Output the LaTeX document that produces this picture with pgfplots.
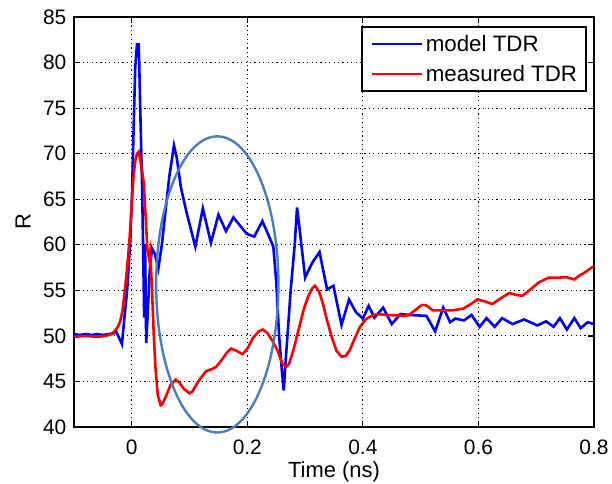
\documentclass[border=0pt]{standalone}
\usepackage{pgfplots}
\pgfplotsset{compat=1.18}
\usepackage{fontspec}
\setmainfont{Liberation Sans}
\definecolor{ellipseblue}{RGB}{74,126,187}
\begin{document}
\fontsize{11}{13}\selectfont
\begin{tikzpicture}
\begin{axis}[
  scale only axis, width=260bp, height=205bp,
  xmin=-0.1, xmax=0.8, ymin=40, ymax=85,
  xtick={0,0.2,0.4,0.6,0.8}, ytick={40,45,...,85},
  grid=major,
  major grid style={black, line width=0.45bp, dash pattern=on 0.6bp off 1.6bp},
  tick align=inside, major tick length=3bp,
  tick style={black, line width=0.6bp},
  axis line style={black, line width=0.9bp},
  /pgf/number format/assume math mode=true,
  xticklabel style={/pgf/number format/fixed, yshift=-2.8bp},
  ticklabel style={font=\fontsize{10.5}{12}\selectfont},
  xlabel={Time (ns)}, ylabel={R},
  xlabel style={at={(axis description cs:0.5,0)}, anchor=base, yshift=-25.4bp, font=\fontsize{11}{13}\selectfont},
  ylabel style={at={(axis description cs:-0.098,0.5)}, anchor=center, font=\fontsize{11}{13}\selectfont},
  clip=false,
  legend style={at={(1,1)}, anchor=north east, xshift=-3.5bp, yshift=-4.5bp,
    draw=black, line width=0.9bp, fill=white,
    inner xsep=4.5bp, inner ysep=4.5bp, column sep=1.5bp, row sep=7bp,
    nodes={inner sep=0bp, text height=8bp, text depth=0bp},
    font=\fontsize{11.2}{13}\selectfont},
  legend cell align=left,
  legend image code/.code={\draw[#1] (0bp,0bp) -- (24.5bp,0bp);},
]
\addplot[color=blue, line width=1.3bp] coordinates {
(-0.1,50.2) (-0.09,50.1) (-0.08,50.2) (-0.07,50.1) (-0.06,50.2) (-0.05,50.1)
(-0.04,50.2) (-0.03,50.3) (-0.027,50.5) (-0.022,49.8) (-0.017,49.1)
(-0.012,52.5) (-0.008,55) (-0.004,59) (-0.002,61.2) (0.0006,66) (0.0035,73.6)
(0.006,79.5) (0.009,82.0) (0.012,82.0) (0.013,79.5) (0.015,74) (0.018,66)
(0.020,58) (0.0215,52) (0.023,60) (0.025,49.2) (0.028,53) (0.031,57) (0.035,59.6)
(0.040,59.0) (0.046,57.4) (0.052,60.0) (0.058,63.5) (0.065,67.5) (0.073,70.9)
(0.078,69.5) (0.085,66.3) (0.095,63.5) (0.110,59.8) (0.123,64.0) (0.137,60.2)
(0.150,63.3) (0.163,61.5) (0.176,63.0) (0.199,61.2) (0.212,60.9) (0.226,62.6)
(0.237,61.0) (0.245,59.8) (0.250,56) (0.255,50) (0.260,46) (0.263,44.0)
(0.266,47) (0.270,50.5) (0.275,55) (0.282,60) (0.286,64.1) (0.290,62)
(0.300,56.4) (0.312,58) (0.325,59.2) (0.338,55.1) (0.349,55.5) (0.363,51.2)
(0.376,54.0) (0.388,52.6) (0.400,51.9) (0.410,53.3) (0.420,52.0) (0.435,53.1)
(0.450,51.3) (0.465,52.4) (0.480,52.3) (0.510,52.2) (0.525,50.5) (0.539,53.1)
(0.551,51.5) (0.560,51.9) (0.575,51.7) (0.588,52.3) (0.602,51.0) (0.614,51.95)
(0.628,51.0) (0.641,51.95) (0.659,51.3) (0.679,51.8) (0.702,51.15) (0.717,51.6)
(0.730,51.0) (0.741,51.95) (0.753,50.7) (0.766,51.95) (0.777,50.85) (0.789,51.5)
(0.8,51.3)
};
\addlegendentry{model TDR}
\addplot[color=red, line width=1.3bp] coordinates {
(-0.1,49.9) (-0.08,50.0) (-0.06,49.9) (-0.045,50.0) (-0.035,50.2) (-0.030,50.5)
(-0.024,51.0) (-0.020,51.6) (-0.016,52.8) (-0.012,55) (-0.008,57.5) (-0.004,60.5)
(0.000,64.5) (0.003,67.5) (0.006,69.2) (0.009,70.0) (0.012,70.2) (0.015,69.2)
(0.018,68) (0.021,66.7) (0.024,63.0) (0.027,59.5) (0.030,58.5) (0.032,59.3)
(0.035,55) (0.038,50.2) (0.041,46.5) (0.045,43.5) (0.050,42.4) (0.053,42.5)
(0.058,43.2) (0.067,44.6) (0.076,45.2) (0.082,44.9) (0.090,44.2) (0.100,43.7)
(0.105,43.9) (0.115,45.0) (0.128,46.1) (0.140,46.4) (0.146,46.6) (0.155,47.3)
(0.165,48.2) (0.172,48.6) (0.180,48.4) (0.192,48.0) (0.200,48.6) (0.210,49.8)
(0.220,50.5) (0.227,50.7) (0.235,50.3) (0.245,49.3) (0.253,48.3) (0.260,47.0)
(0.267,46.6) (0.272,46.9) (0.280,48.5) (0.290,51.0) (0.298,53.0) (0.305,54.3)
(0.312,55.2) (0.317,55.5) (0.324,54.9) (0.331,53.5) (0.338,51.7) (0.346,49.9)
(0.354,48.4) (0.363,47.7) (0.370,47.8) (0.377,48.4) (0.385,49.6) (0.395,51.0)
(0.405,51.8) (0.412,52.1) (0.425,52.4) (0.440,52.3) (0.459,52.25) (0.470,52.2)
(0.480,52.3) (0.490,52.8) (0.502,53.4) (0.510,53.35) (0.521,52.8) (0.535,52.8)
(0.555,52.8) (0.574,53.0) (0.587,53.5) (0.598,54.0) (0.610,53.8) (0.624,53.5)
(0.638,54.1) (0.653,54.7) (0.665,54.5) (0.676,54.4) (0.690,55.1) (0.705,55.9)
(0.722,56.4) (0.740,56.4) (0.752,56.45) (0.766,56.2) (0.774,56.6) (0.785,57.0)
(0.796,57.5) (0.8,57.6)
};
\addlegendentry{measured TDR}
\draw[ellipseblue, line width=1.2bp] (axis cs:0.148,55.65) ellipse [x radius=0.1058, y radius=16.25];
\end{axis}
\pgfresetboundingbox
\path[use as bounding box] ([xshift=-37bp, yshift=-28bp]current axis.south west) rectangle ([xshift=9bp, yshift=8.5bp]current axis.north east);
\end{tikzpicture}
\end{document}
